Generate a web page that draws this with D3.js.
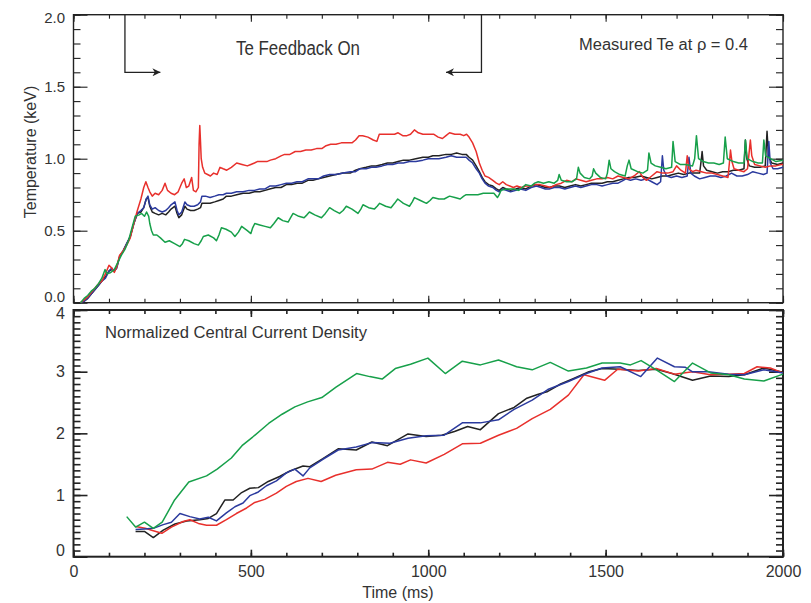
<!DOCTYPE html>
<html>
<head>
<meta charset="utf-8">
<script src="https://cdn.jsdelivr.net/npm/d3@7"></script>
<style>
  body { margin: 0; background: #fff; }
  text { font-family: "Liberation Sans", Arial, sans-serif; fill: #333; }
</style>
</head>
<body>
<script>
// ---- Measured Te at rho = 0.4 (ms, keV) ----
const teRed = [[20,0.0],[30,0.02],[40,0.04],[50,0.07],[60,0.1],[70,0.13],[80,0.15],[90,0.2],[100,0.26],[108,0.24],[115,0.21],[122,0.25],[130,0.33],[140,0.36],[150,0.4],[160,0.45],[170,0.55],[180,0.64],[190,0.72],[198,0.8],[204,0.84],[210,0.8],[215,0.77],[222,0.74],[230,0.76],[240,0.75],[250,0.78],[258,0.83],[265,0.78],[275,0.76],[285,0.75],[295,0.77],[305,0.83],[312,0.86],[318,0.8],[325,0.81],[333,0.87],[338,0.78],[345,0.77],[352,0.8],[354,1.1],[356,1.23],[358,1.12],[360,1.0],[364,0.94],[370,0.9],[378,0.89],[386,0.88],[395,0.9],[405,0.89],[413,0.94],[422,0.93],[432,0.92],[445,0.94],[460,0.97],[475,0.96],[490,0.95],[500,0.96],[510,0.97],[518,0.98],[530,0.98],[545,0.98],[555,0.99],[570,1.0],[585,1.02],[595,1.03],[610,1.03],[625,1.05],[640,1.05],[655,1.06],[670,1.06],[685,1.07],[700,1.07],[712,1.09],[725,1.1],[740,1.1],[755,1.11],[770,1.11],[785,1.11],[795,1.13],[805,1.16],[815,1.16],[830,1.15],[845,1.13],[855,1.12],[862,1.17],[875,1.17],[890,1.17],[905,1.17],[915,1.18],[928,1.16],[940,1.16],[950,1.17],[961,1.2],[972,1.18],[985,1.17],[1000,1.17],[1015,1.17],[1028,1.15],[1040,1.14],[1050,1.16],[1060,1.18],[1075,1.17],[1090,1.17],[1100,1.16],[1108,1.17],[1115,1.15],[1125,1.11],[1135,1.05],[1144,0.97],[1152,0.92],[1160,0.88],[1170,0.87],[1182,0.85],[1192,0.83],[1200,0.82],[1210,0.84],[1220,0.82],[1230,0.81],[1240,0.8],[1250,0.81],[1262,0.8],[1275,0.81],[1290,0.81],[1300,0.82],[1315,0.82],[1330,0.81],[1345,0.8],[1360,0.82],[1375,0.83],[1390,0.85],[1405,0.84],[1416,0.86],[1430,0.85],[1445,0.84],[1460,0.85],[1475,0.86],[1490,0.86],[1505,0.87],[1520,0.86],[1535,0.88],[1550,0.87],[1565,0.86],[1580,0.88],[1595,0.91],[1605,0.87],[1615,0.85],[1630,0.88],[1645,0.91],[1660,0.9],[1675,0.9],[1690,0.91],[1700,0.95],[1712,0.92],[1725,0.9],[1730,1.02],[1735,0.93],[1745,0.91],[1755,0.92],[1770,0.91],[1785,0.9],[1800,0.9],[1815,0.89],[1830,0.88],[1845,0.87],[1850,1.0],[1852,1.06],[1856,0.98],[1862,0.93],[1875,0.92],[1890,0.91],[1900,0.93],[1906,1.08],[1908,1.13],[1912,1.02],[1920,0.96],[1935,0.95],[1950,0.94],[1965,0.95],[1980,0.95],[1995,0.96],[2000,0.96]];

const teBlue = [[20,0.0],[30,0.01],[40,0.03],[50,0.06],[60,0.09],[70,0.12],[80,0.15],[90,0.17],[100,0.22],[108,0.24],[115,0.22],[122,0.24],[130,0.32],[140,0.36],[150,0.41],[160,0.46],[170,0.55],[180,0.62],[190,0.64],[198,0.66],[205,0.72],[210,0.74],[215,0.68],[222,0.65],[230,0.66],[240,0.64],[250,0.63],[260,0.64],[268,0.66],[275,0.68],[286,0.7],[292,0.64],[297,0.61],[305,0.63],[314,0.7],[320,0.68],[330,0.67],[340,0.67],[350,0.68],[358,0.7],[362,0.74],[372,0.74],[385,0.73],[398,0.74],[410,0.75],[422,0.75],[431,0.76],[445,0.76],[460,0.77],[478,0.77],[495,0.78],[510,0.78],[525,0.79],[540,0.79],[553,0.81],[570,0.81],[585,0.82],[600,0.83],[615,0.83],[630,0.84],[645,0.84],[661,0.86],[675,0.86],[690,0.86],[705,0.88],[722,0.89],[740,0.89],[760,0.9],[780,0.91],[795,0.91],[807,0.93],[825,0.93],[840,0.94],[853,0.94],[870,0.95],[885,0.96],[900,0.96],[915,0.97],[930,0.97],[947,0.98],[965,0.98],[985,0.99],[1000,1.0],[1013,1.0],[1030,1.0],[1050,1.01],[1065,1.02],[1080,1.01],[1095,1.01],[1107,1.01],[1115,0.99],[1125,0.97],[1135,0.93],[1144,0.9],[1152,0.86],[1160,0.83],[1170,0.81],[1182,0.8],[1192,0.78],[1200,0.77],[1210,0.79],[1220,0.78],[1232,0.77],[1247,0.78],[1260,0.79],[1275,0.78],[1290,0.8],[1305,0.81],[1318,0.8],[1330,0.79],[1341,0.79],[1355,0.8],[1370,0.8],[1385,0.79],[1400,0.8],[1415,0.81],[1430,0.8],[1445,0.81],[1460,0.82],[1475,0.82],[1490,0.81],[1505,0.82],[1520,0.83],[1535,0.83],[1550,0.85],[1557,0.86],[1570,0.85],[1585,0.86],[1600,0.85],[1615,0.86],[1630,0.84],[1645,0.82],[1655,0.84],[1660,1.02],[1664,0.92],[1672,0.88],[1685,0.87],[1700,0.88],[1715,0.87],[1730,0.88],[1735,1.01],[1740,0.9],[1750,0.88],[1765,0.86],[1780,0.87],[1795,0.88],[1810,0.88],[1825,0.87],[1840,0.88],[1855,0.9],[1870,0.88],[1885,0.88],[1900,0.89],[1915,0.91],[1930,0.9],[1945,0.89],[1955,0.9],[1960,1.12],[1964,0.97],[1972,0.93],[1985,0.93],[2000,0.94]];

const teBlack = [[20,0.0],[30,0.01],[40,0.03],[50,0.06],[60,0.09],[70,0.12],[80,0.15],[90,0.18],[100,0.22],[108,0.23],[115,0.22],[122,0.25],[130,0.32],[140,0.36],[150,0.41],[160,0.46],[170,0.55],[180,0.62],[190,0.63],[198,0.66],[205,0.72],[210,0.73],[215,0.67],[222,0.63],[230,0.62],[240,0.61],[250,0.62],[260,0.61],[268,0.63],[275,0.65],[286,0.67],[292,0.62],[297,0.59],[305,0.61],[314,0.67],[320,0.65],[330,0.64],[340,0.64],[350,0.65],[358,0.66],[362,0.69],[372,0.69],[385,0.69],[398,0.7],[410,0.71],[422,0.72],[431,0.74],[445,0.74],[460,0.75],[478,0.76],[495,0.76],[510,0.77],[525,0.77],[540,0.78],[553,0.79],[570,0.8],[585,0.8],[600,0.82],[615,0.82],[630,0.83],[645,0.83],[661,0.85],[675,0.85],[690,0.86],[705,0.87],[722,0.88],[740,0.89],[760,0.9],[780,0.9],[795,0.92],[807,0.93],[825,0.94],[840,0.95],[853,0.95],[870,0.96],[885,0.97],[900,0.97],[915,0.98],[930,0.99],[947,0.99],[965,1.0],[985,1.01],[1000,1.01],[1013,1.02],[1030,1.02],[1050,1.03],[1065,1.03],[1080,1.04],[1095,1.03],[1107,1.03],[1115,1.01],[1125,0.99],[1135,0.95],[1144,0.91],[1152,0.87],[1160,0.84],[1170,0.82],[1182,0.81],[1192,0.79],[1200,0.78],[1210,0.8],[1220,0.79],[1232,0.78],[1247,0.79],[1260,0.8],[1275,0.79],[1290,0.81],[1305,0.82],[1318,0.81],[1330,0.8],[1341,0.8],[1355,0.81],[1370,0.81],[1385,0.8],[1400,0.81],[1415,0.82],[1430,0.81],[1445,0.82],[1460,0.83],[1475,0.83],[1490,0.83],[1505,0.84],[1520,0.84],[1535,0.85],[1550,0.86],[1565,0.87],[1580,0.87],[1600,0.88],[1615,0.87],[1630,0.86],[1645,0.87],[1660,0.88],[1675,0.88],[1690,0.89],[1705,0.9],[1720,0.89],[1735,0.9],[1750,0.9],[1765,0.9],[1770,1.0],[1772,1.05],[1776,0.95],[1785,0.92],[1800,0.91],[1815,0.9],[1830,0.91],[1845,0.91],[1860,0.92],[1875,0.92],[1890,0.93],[1894,1.13],[1898,1.0],[1905,0.95],[1920,0.94],[1935,0.94],[1950,0.95],[1955,1.19],[1959,1.02],[1968,0.97],[1985,0.96],[2000,0.97]];

const teGreen = [[20,0.0],[30,0.03],[40,0.05],[50,0.08],[60,0.1],[70,0.13],[80,0.17],[89,0.23],[95,0.2],[105,0.21],[115,0.23],[125,0.28],[135,0.33],[145,0.37],[155,0.43],[165,0.52],[174,0.6],[185,0.61],[192,0.62],[200,0.6],[206,0.63],[212,0.6],[215,0.55],[220,0.5],[225,0.47],[235,0.47],[245,0.45],[258,0.42],[270,0.43],[285,0.41],[300,0.39],[307,0.41],[313,0.44],[325,0.43],[340,0.41],[352,0.4],[360,0.43],[366,0.46],[380,0.47],[395,0.45],[403,0.43],[410,0.47],[417,0.52],[430,0.51],[445,0.49],[455,0.46],[465,0.49],[474,0.53],[490,0.5],[500,0.48],[505,0.52],[511,0.55],[525,0.54],[540,0.53],[555,0.52],[565,0.55],[577,0.59],[590,0.57],[605,0.56],[612,0.59],[619,0.62],[635,0.6],[650,0.59],[658,0.61],[665,0.63],[680,0.61],[699,0.59],[710,0.62],[722,0.66],[735,0.64],[750,0.62],[760,0.64],[769,0.67],[785,0.65],[802,0.62],[810,0.65],[816,0.68],[832,0.66],[848,0.65],[856,0.67],[863,0.69],[880,0.67],[895,0.66],[905,0.69],[914,0.72],[930,0.69],[947,0.67],[955,0.7],[961,0.73],[978,0.71],[995,0.69],[1005,0.71],[1013,0.73],[1030,0.72],[1045,0.72],[1060,0.74],[1075,0.73],[1090,0.72],[1100,0.74],[1107,0.75],[1125,0.75],[1140,0.75],[1155,0.76],[1170,0.76],[1185,0.76],[1195,0.73],[1200,0.75],[1205,0.78],[1220,0.79],[1240,0.79],[1255,0.78],[1265,0.8],[1275,0.82],[1290,0.81],[1300,0.83],[1310,0.84],[1325,0.83],[1340,0.84],[1355,0.83],[1365,0.85],[1369,0.89],[1375,0.85],[1390,0.84],[1405,0.84],[1418,0.86],[1423,0.94],[1428,0.9],[1440,0.87],[1455,0.86],[1462,0.88],[1466,0.93],[1472,0.9],[1485,0.87],[1500,0.86],[1505,0.9],[1510,0.99],[1515,0.93],[1525,0.91],[1540,0.89],[1555,0.88],[1561,0.95],[1566,0.99],[1572,0.93],[1590,0.91],[1605,0.9],[1618,0.92],[1622,1.04],[1628,0.97],[1640,0.95],[1655,0.94],[1670,0.93],[1686,0.94],[1690,1.12],[1696,0.98],[1710,0.96],[1725,0.96],[1745,0.95],[1751,1.0],[1756,1.16],[1762,1.0],[1775,0.98],[1790,0.97],[1805,0.97],[1820,0.96],[1832,0.97],[1837,1.15],[1843,1.0],[1860,0.98],[1875,0.97],[1890,0.97],[1894,1.13],[1899,1.0],[1915,0.98],[1930,0.97],[1942,0.97],[1946,1.13],[1951,1.02],[1965,1.0],[1980,0.98],[2000,0.99]];

// ---- Normalized central current density (ms, a.u.) ----
const jRed = [[175,0.49],[202,0.46],[225,0.42],[249,0.38],[276,0.48],[309,0.57],[328,0.6],[352,0.54],[375,0.51],[403,0.51],[431,0.6],[459,0.7],[488,0.79],[511,0.88],[539,0.93],[572,1.03],[600,1.14],[628,1.22],[661,1.27],[698,1.22],[739,1.32],[797,1.41],[841,1.42],[885,1.53],[921,1.5],[950,1.57],[994,1.52],[1045,1.66],[1096,1.83],[1147,1.84],[1198,1.97],[1249,2.08],[1293,2.24],[1344,2.39],[1395,2.62],[1439,2.95],[1497,2.86],[1534,3.04],[1592,3.01],[1643,3.05],[1694,2.96],[1745,3.0],[1796,2.95],[1847,2.96],[1891,2.97],[1927,3.08],[1964,3.06],[2000,2.98]];
const jBlue = [[175,0.44],[200,0.45],[225,0.46],[253,0.52],[276,0.56],[300,0.7],[328,0.65],[356,0.61],[380,0.64],[403,0.58],[431,0.71],[455,0.81],[478,0.87],[497,0.99],[521,1.05],[544,1.15],[572,1.23],[600,1.36],[624,1.42],[647,1.31],[666,1.44],[703,1.58],[746,1.73],[797,1.78],[841,1.85],[892,1.84],[943,1.92],[994,1.96],[1045,1.97],[1096,2.17],[1147,2.17],[1198,2.22],[1242,2.39],[1293,2.54],[1337,2.71],[1395,2.84],[1446,2.97],[1490,3.06],[1541,3.08],[1599,2.92],[1646,3.22],[1694,3.08],[1725,3.07],[1744,3.0],[1789,3.0],[1847,2.96],[1891,2.95],[1946,3.03],[2000,2.98]];
const jBlack = [[175,0.41],[200,0.41],[225,0.31],[253,0.43],[286,0.53],[319,0.58],[356,0.6],[380,0.62],[403,0.7],[427,0.92],[450,0.92],[474,1.04],[497,1.11],[521,1.12],[549,1.22],[581,1.3],[610,1.39],[647,1.47],[666,1.46],[703,1.59],[746,1.75],[797,1.73],[841,1.86],[885,1.8],[943,1.99],[994,1.95],[1038,1.97],[1074,2.03],[1111,2.11],[1147,2.06],[1198,2.32],[1242,2.42],[1278,2.57],[1308,2.63],[1337,2.68],[1373,2.8],[1410,2.89],[1453,3.0],[1490,3.05],[1541,3.04],[1592,3.02],[1643,3.04],[1687,2.97],[1745,2.86],[1796,2.93],[1847,2.92],[1891,2.95],[1946,3.06],[2000,2.99]];
const jGreen = [[150,0.65],[175,0.48],[200,0.56],[225,0.46],[250,0.56],[285,0.92],[325,1.21],[375,1.31],[405,1.42],[445,1.6],[475,1.8],[505,1.94],[550,2.16],[588,2.31],[624,2.43],[660,2.51],[700,2.58],[740,2.75],[798,2.97],[835,2.92],[870,2.88],[907,3.05],[950,3.12],[999,3.22],[1048,2.97],[1096,3.17],[1147,3.11],[1198,3.19],[1249,3.08],[1293,3.03],[1344,3.15],[1395,3.01],[1446,3.06],[1490,3.14],[1541,3.14],[1570,3.11],[1600,3.18],[1643,3.03],[1694,2.84],[1745,3.14],[1796,2.98],[1847,2.95],[1891,2.88],[1946,2.85],[2000,2.96]];

// feedback window (ms) and arrow height (keV)
const feedbackOn = 145, feedbackOff = 1150, arrowLen = 100, arrowY = 1.6;

const colors = { red: "#e8302c", blue: "#2b3a9e", black: "#222222", green: "#17a04a" };

const width = 811, height = 603;
const svg = d3.select("body").append("svg").attr("width", width).attr("height", height);

const x = d3.scaleLinear().domain([0, 2000]).range([73.5, 783]);
const yTe = d3.scaleLinear().domain([0, 2]).range([302.7, 14.7]);
const yJ = d3.scaleLinear().domain([0, 4]).range([556.7, 310]);

function drawAxes(y, yMinor, yMajor, yFmt, frameWidth, fontSize, showX) {
  const g = svg.append("g");
  const [x0, x1] = x.range();
  const [yb, yt] = y.range();
  const clean = sel => { sel.select(".domain").remove(); sel.selectAll("line").attr("stroke", "#222").attr("stroke-width", frameWidth * 0.8); };

  g.append("g").attr("transform", `translate(${x0},0)`)
    .call(d3.axisLeft(y).tickValues(yMinor).tickSize(-7).tickFormat("")).call(clean);
  g.append("g").attr("transform", `translate(${x1},0)`)
    .call(d3.axisRight(y).tickValues(yMinor).tickSize(-7).tickFormat("")).call(clean);
  const left = g.append("g").attr("transform", `translate(${x0},0)`)
    .call(d3.axisLeft(y).tickValues(yMajor).tickSize(-14).tickPadding(8.5).tickFormat(yFmt)).call(clean);
  g.append("g").attr("transform", `translate(${x1},0)`)
    .call(d3.axisRight(y).tickValues(yMajor).tickSize(-14).tickFormat("")).call(clean);
  left.selectAll("text").attr("font-family", null).attr("font-size", fontSize).attr("fill", "#333");
  // keep the end labels inside the frame
  left.selectAll(".tick").filter(d => d === y.domain()[1]).select("text").attr("dy", "0.55em");
  left.selectAll(".tick").filter(d => d === y.domain()[0]).select("text").attr("dy", "-0.05em");

  const xMinor = d3.range(0, 2001, 100), xMajor = d3.range(0, 2001, 500);
  g.append("g").attr("transform", `translate(0,${yb})`)
    .call(d3.axisBottom(x).tickValues(xMinor).tickSize(-4).tickFormat("")).call(clean);
  g.append("g").attr("transform", `translate(0,${yt})`)
    .call(d3.axisTop(x).tickValues(xMinor).tickSize(-4).tickFormat("")).call(clean);
  g.append("g").attr("transform", `translate(0,${yt})`)
    .call(d3.axisTop(x).tickValues(xMajor).tickSize(-7).tickFormat("")).call(clean);
  const bottom = g.append("g").attr("transform", `translate(0,${yb})`)
    .call(d3.axisBottom(x).tickValues(xMajor).tickSize(-7).tickPadding(9).tickFormat(showX ? d3.format("d") : ""))
    .call(clean);
  bottom.selectAll("text").attr("font-family", null).attr("font-size", 16).attr("fill", "#333");

  g.append("rect").attr("x", x0).attr("y", yt).attr("width", x1 - x0).attr("height", yb - yt)
    .attr("fill", "none").attr("stroke", "#222").attr("stroke-width", frameWidth);
}

drawAxes(yTe, d3.range(0, 2.001, 0.1).map(v => +v.toFixed(1)), [0, 0.5, 1, 1.5, 2], d3.format(".1f"), 1.4, 15, false);
drawAxes(yJ, d3.range(0, 4.001, 0.1).map(v => +v.toFixed(1)), [0, 1, 2, 3, 4], d3.format("d"), 2, 16, true);

// lines
const lineTe = d3.line().x(d => x(d[0])).y(d => yTe(d[1]));
const lineJ = d3.line().x(d => x(d[0])).y(d => yJ(d[1]));

const teSeries = [[teBlack, colors.black], [teBlue, colors.blue], [teRed, colors.red], [teGreen, colors.green]];
svg.append("g").selectAll("path").data(teSeries).enter().append("path")
  .attr("d", d => lineTe(d[0])).attr("fill", "none").attr("stroke", d => d[1])
  .attr("stroke-width", 1.5).attr("stroke-linejoin", "round");

const jSeries = [[jBlack, colors.black], [jRed, colors.red], [jBlue, colors.blue], [jGreen, colors.green]];
svg.append("g").selectAll("path").data(jSeries).enter().append("path")
  .attr("d", d => lineJ(d[0])).attr("fill", "none").attr("stroke", d => d[1])
  .attr("stroke-width", 1.5).attr("stroke-linejoin", "round");

// Te feedback brackets with arrows
svg.append("defs").append("marker").attr("id", "arrow")
  .attr("viewBox", "0 0 10 10").attr("refX", 10).attr("refY", 5)
  .attr("markerWidth", 8).attr("markerHeight", 8).attr("markerUnits", "userSpaceOnUse")
  .attr("orient", "auto")
  .append("path").attr("d", "M0,0 L10,5 L0,10 L3,5 Z").attr("fill", "#222");

const brackets = [[feedbackOn, feedbackOn + arrowLen], [feedbackOff, feedbackOff - arrowLen]];
svg.append("g").selectAll("path").data(brackets).enter().append("path")
  .attr("d", d => `M${x(d[0])},${yTe(2)} V${yTe(arrowY)} H${x(d[1])}`)
  .attr("fill", "none").attr("stroke", "#222").attr("stroke-width", 1.3)
  .attr("marker-end", "url(#arrow)");

svg.append("text").attr("x", 236).attr("y", 55).attr("font-size", 20)
  .attr("textLength", 124).attr("lengthAdjust", "spacingAndGlyphs").text("Te Feedback On");
svg.append("text").attr("x", 579).attr("y", 50).attr("font-size", 16)
  .attr("textLength", 169).attr("lengthAdjust", "spacingAndGlyphs").text("Measured Te at ρ = 0.4");
svg.append("text").attr("x", 105).attr("y", 338).attr("font-size", 16)
  .attr("textLength", 262).attr("lengthAdjust", "spacingAndGlyphs").text("Normalized Central Current Density");

svg.append("text").attr("transform", "translate(36,152) rotate(-90)").attr("text-anchor", "middle")
  .attr("font-size", 16).text("Temperature (keV)");
svg.append("text").attr("x", 398).attr("y", 598).attr("text-anchor", "middle")
  .attr("font-size", 16).text("Time (ms)");
</script>
</body>
</html>
